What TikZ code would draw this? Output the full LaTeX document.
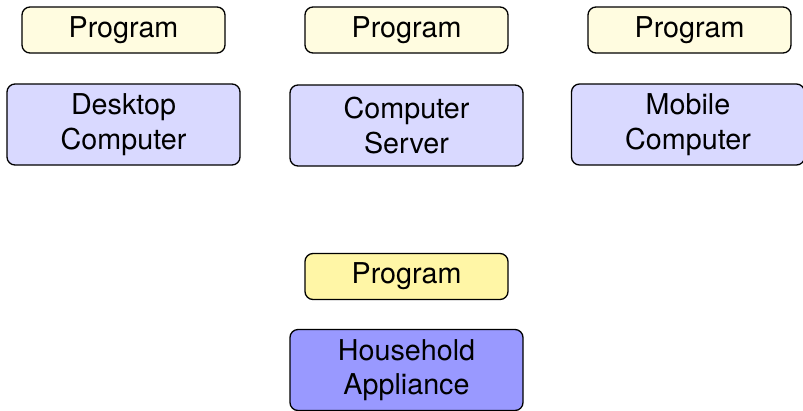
\documentclass[tikz,border=0pt]{standalone}
\usepackage{fontspec}
\setmainfont{TeX Gyre Heros}
\definecolor{progtop}{RGB}{255,252,224}
\definecolor{progbot}{RGB}{255,246,166}
\definecolor{comp}{RGB}{217,217,255}
\definecolor{appl}{RGB}{153,153,255}
\begin{document}
\begin{tikzpicture}[x=1bp,y=-1bp,
  box/.style={draw=black,line width=1.3bp,rounded corners=8bp,inner sep=0pt,align=center,
    font=\fontsize{28.7bp}{34.5bp}\selectfont},
  prog/.style={box,minimum width=203bp,minimum height=46bp},
  machine/.style={box,minimum width=233bp,minimum height=81bp}]
\useasboundingbox (0,0) rectangle (803,410);
\node[prog,fill=progtop] (p1) at (123.5,30) {Program};
\node[prog,fill=progtop] (p2) at (406.5,30) {Program};
\node[prog,fill=progtop] (p3) at (689.5,30) {Program};
\node[machine,fill=comp] (c1) at (123.5,124.5) {Desktop\\Computer};
\node[machine,fill=comp] (c2) at (406.5,125.5) {Computer\\Server};
\node[machine,fill=comp] (c3) at (688,124.5) {Mobile\\Computer};
\node[prog,fill=progbot] (p4) at (406.5,276.5) {Program};
\node[machine,fill=appl] (h) at (406.5,370) {Household\\Appliance};
\end{tikzpicture}
\end{document}
